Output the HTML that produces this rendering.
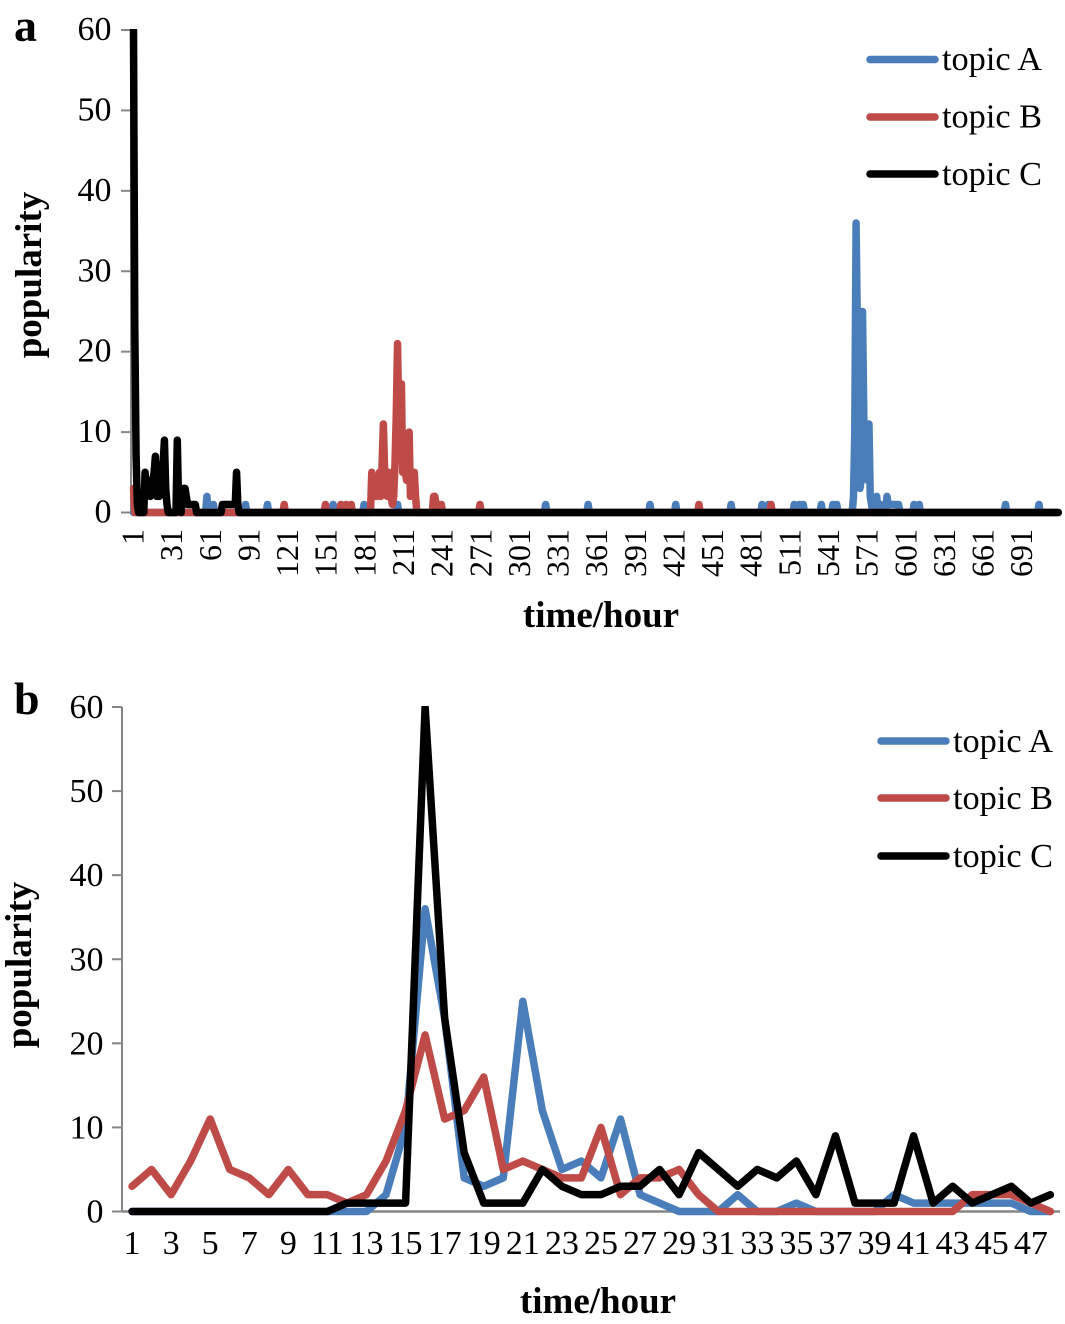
<!DOCTYPE html>
<html lang="en">
<head>
<meta charset="utf-8">
<title>Topic popularity over time</title>
<style>
html,body{margin:0;padding:0;background:#fff;}
svg{display:block;}
text{font-family:"Liberation Serif",serif;fill:#000;}
.tick{font-size:34px;}
.title{font-size:37px;font-weight:bold;}
.legend{font-size:34.3px;}
.panel{font-size:46px;font-weight:bold;}
</style>
</head>
<body>
<svg id="root" xmlns="http://www.w3.org/2000/svg" width="1065" height="1324" viewBox="0 0 1065 1324">
  <defs>
    <clipPath id="clipA"><rect x="100" y="29" width="965" height="500"/></clipPath>
    <clipPath id="clipB"><rect x="100" y="706" width="965" height="520"/></clipPath>
  </defs>
  <g id="panelA">
    <text class="panel" x="14" y="41">a</text>
    <line x1="131" y1="30" x2="131" y2="513" stroke="#868686" stroke-width="2"/>
    <line x1="131" y1="512.5" x2="1060" y2="512.5" stroke="#868686" stroke-width="2"/>
    <g id="a-ticks"></g>
    <g id="a-lines" clip-path="url(#clipA)"></g>
    <text class="title" x="601" y="627" text-anchor="middle">time/hour</text>
    <text class="title" transform="translate(41,275) rotate(-90)" text-anchor="middle">popularity</text>
    <g>
      <line x1="870" y1="59.5" x2="935" y2="59.5" stroke="#4a7ebb" stroke-width="7.5" stroke-linecap="round"/>
      <text class="legend" x="942" y="70">topic A</text>
      <line x1="870" y1="117" x2="935" y2="117" stroke="#be4b48" stroke-width="7.5" stroke-linecap="round"/>
      <text class="legend" x="942" y="127.5">topic B</text>
      <line x1="870" y1="174" x2="935" y2="174" stroke="#000" stroke-width="7.5" stroke-linecap="round"/>
      <text class="legend" x="942" y="185">topic C</text>
    </g>
  </g>
  <g id="panelB">
    <text class="panel" x="14" y="714">b</text>
    <line x1="122" y1="707" x2="122" y2="1212" stroke="#868686" stroke-width="2"/>
    <line x1="122" y1="1211.5" x2="1060" y2="1211.5" stroke="#868686" stroke-width="2.5"/>
    <g id="b-ticks"></g>
    <g id="b-lines" clip-path="url(#clipB)"></g>
    <text class="title" x="598" y="1313" text-anchor="middle">time/hour</text>
    <text class="title" transform="translate(31,965) rotate(-90)" text-anchor="middle">popularity</text>
    <g>
      <line x1="881" y1="741" x2="946" y2="741" stroke="#4a7ebb" stroke-width="7.5" stroke-linecap="round"/>
      <text class="legend" x="953" y="752">topic A</text>
      <line x1="881" y1="798" x2="946" y2="798" stroke="#be4b48" stroke-width="7.5" stroke-linecap="round"/>
      <text class="legend" x="953" y="809">topic B</text>
      <line x1="881" y1="856" x2="946" y2="856" stroke="#000" stroke-width="7.5" stroke-linecap="round"/>
      <text class="legend" x="953" y="867">topic C</text>
    </g>
  </g>
</svg>
<script>
// Shared axis values
var yTicks = [0, 10, 20, 30, 40, 50, 60];

// Panel a: non-zero hours and their popularity values (all other hours are 0)
var aHourCount = 719;
var aXTicks = [1, 31, 61, 91, 121, 151, 181, 211, 241, 271, 301, 331, 361, 391, 421, 451, 481, 511, 541, 571, 601, 631, 661, 691];
var aTopicAHours = [58, 63, 88, 105, 156, 180, 206, 321, 354, 402, 422, 465, 489, 494, 514, 518, 521, 535, 544, 547, 560, 561, 562, 563, 564, 565, 566, 567, 568, 569, 570, 571, 572, 573, 574, 578, 581, 586, 587, 588, 589, 590, 591, 592, 593, 594, 595, 607, 611, 678, 704];
var aTopicAValues = [2, 1, 1, 1, 1, 1, 1, 1, 1, 1, 1, 1, 1, 1, 1, 1, 1, 1, 1, 1, 2, 10, 36, 23, 4, 3, 4, 25, 12, 5, 6, 4, 11, 2, 1, 2, 1, 2, 1, 1, 1, 1, 1, 1, 1, 1, 1, 1, 1, 1, 1];
var aTopicBHours = [1, 118, 150, 162, 166, 170, 186, 187, 188, 189, 190, 191, 192, 193, 194, 195, 196, 197, 198, 199, 200, 201, 202, 203, 204, 205, 206, 207, 208, 209, 210, 211, 212, 213, 214, 215, 216, 217, 218, 219, 220, 234, 235, 236, 240, 270, 440, 496];
var aTopicBValues = [3, 1, 1, 1, 1, 1, 5, 3, 2, 3, 2, 3, 5, 2, 6, 11, 5, 4, 2, 5, 2, 2, 1, 2, 6, 12, 21, 11, 12, 16, 5, 6, 5, 4, 4, 10, 2, 4, 4, 5, 2, 2, 2, 1, 1, 1, 1, 1];
var aTopicCHours = [1, 2, 3, 4, 10, 11, 12, 13, 14, 15, 16, 17, 18, 19, 20, 21, 22, 23, 24, 25, 26, 27, 35, 36, 37, 39, 40, 41, 42, 43, 44, 45, 46, 47, 48, 49, 70, 71, 72, 73, 74, 75, 76, 77, 78, 79, 80, 81, 82];
var aTopicCValues = [60, 23, 7, 1, 5, 2, 4, 4, 2, 4, 4, 5, 7, 2, 5, 2, 5, 6, 6, 9, 3, 1, 9, 1, 1, 2, 3, 3, 2, 1, 1, 1, 1, 1, 1, 1, 1, 1, 1, 1, 1, 1, 1, 1, 1, 1, 1, 5, 1];

// Panel b: popularity per hour
var bXTicks = [1, 3, 5, 7, 9, 11, 13, 15, 17, 19, 21, 23, 25, 27, 29, 31, 33, 35, 37, 39, 41, 43, 45, 47];
var bTopicA = [0, 0, 0, 0, 0, 0, 0, 0, 0, 0, 0, 0, 0, 2, 10, 36, 23, 4, 3, 4, 25, 12, 5, 6, 4, 11, 2, 1, 0, 0, 0, 2, 0, 0, 1, 0, 0, 0, 0, 2, 1, 1, 1, 1, 1, 1, 0, 0];
var bTopicB = [3, 5, 2, 6, 11, 5, 4, 2, 5, 2, 2, 1, 2, 6, 12, 21, 11, 12, 16, 5, 6, 5, 4, 4, 10, 2, 4, 4, 5, 2, 0, 0, 0, 0, 0, 0, 0, 0, 0, 0, 0, 0, 0, 2, 2, 2, 1, 0];
var bTopicC = [0, 0, 0, 0, 0, 0, 0, 0, 0, 0, 0, 1, 1, 1, 1, 60, 23, 7, 1, 1, 1, 5, 3, 2, 2, 3, 3, 5, 2, 7, 5, 3, 5, 4, 6, 2, 9, 1, 1, 1, 9, 1, 3, 1, 2, 3, 1, 2];

var SVG_NS = 'http://www.w3.org/2000/svg';
var COLOR_A = '#4a7ebb', COLOR_B = '#be4b48', COLOR_C = '#000000';

function xA(h) { return 133.5 + (h - 1) * 1.288; }
function yA(v) { return 512.5 - v * (482.5 / 60); }
function xB(h) { return 132 + (h - 1) * 19.54; }
function yB(v) { return 1211.5 - v * (504.5 / 60); }

function expand(hours, values, count) {
  var out = [];
  for (var i = 0; i < count; i++) out.push(0);
  for (var j = 0; j < hours.length; j++) out[hours[j] - 1] = values[j];
  return out;
}

function linePath(values, xFn, yFn) {
  var d = '';
  for (var i = 0; i < values.length; i++) {
    d += (i ? 'L' : 'M') + xFn(i + 1).toFixed(2) + ' ' + yFn(values[i]).toFixed(2);
  }
  return d;
}

function addSeries(parent, values, xFn, yFn, color, width, name) {
  var p = document.createElementNS(SVG_NS, 'path');
  p.setAttribute('d', linePath(values, xFn, yFn));
  p.setAttribute('fill', 'none');
  p.setAttribute('stroke', color);
  p.setAttribute('stroke-width', width);
  p.setAttribute('stroke-linejoin', 'round');
  p.setAttribute('stroke-linecap', 'round');
  
  
  parent.appendChild(p);
}

function addYTicks(parent, axisX, textRight, yFn, labelOffset) {
  yTicks.forEach(function (v) {
    var l = document.createElementNS(SVG_NS, 'line');
    l.setAttribute('x1', axisX - 10);
    l.setAttribute('x2', axisX);
    l.setAttribute('y1', yFn(v));
    l.setAttribute('y2', yFn(v));
    l.setAttribute('stroke', '#868686');
    l.setAttribute('stroke-width', '2');
    
    
    parent.appendChild(l);
    var t = document.createElementNS(SVG_NS, 'text');
    t.setAttribute('class', 'tick');
    t.setAttribute('x', textRight);
    t.setAttribute('y', yFn(v) + labelOffset);
    t.setAttribute('text-anchor', 'end');
    
    
    t.textContent = v;
    parent.appendChild(t);
  });
}

var aTicksGroup = document.getElementById('a-ticks');
var bTicksGroup = document.getElementById('b-ticks');
addYTicks(aTicksGroup, 131, 111.5, yA, 10);
addYTicks(bTicksGroup, 122, 103.5, yB, 11);

aXTicks.forEach(function (h) {
  var t = document.createElementNS(SVG_NS, 'text');
  t.setAttribute('class', 'tick');
  t.setAttribute('style', 'font-size:32px');
  t.setAttribute('text-anchor', 'end');
  t.setAttribute('transform', 'translate(' + (xA(h) + 10) + ',529) rotate(-90)');
  
  
  t.textContent = h;
  aTicksGroup.appendChild(t);
});

bXTicks.forEach(function (h) {
  var t = document.createElementNS(SVG_NS, 'text');
  t.setAttribute('class', 'tick');
  t.setAttribute('x', xB(h));
  t.setAttribute('y', 1254);
  t.setAttribute('text-anchor', 'middle');
  
  
  t.textContent = h;
  bTicksGroup.appendChild(t);
});

var aLines = document.getElementById('a-lines');
var bLines = document.getElementById('b-lines');
addSeries(aLines, expand(aTopicAHours, aTopicAValues, aHourCount), xA, yA, COLOR_A, 7.5, 'panel-a-series-topic-a');
addSeries(aLines, expand(aTopicBHours, aTopicBValues, aHourCount), xA, yA, COLOR_B, 7.5, 'panel-a-series-topic-b');
addSeries(aLines, expand(aTopicCHours, aTopicCValues, aHourCount), xA, yA, COLOR_C, 7.5, 'panel-a-series-topic-c');
addSeries(bLines, bTopicA, xB, yB, COLOR_A, 7.5, 'panel-b-series-topic-a');
addSeries(bLines, bTopicB, xB, yB, COLOR_B, 7.5, 'panel-b-series-topic-b');
addSeries(bLines, bTopicC, xB, yB, COLOR_C, 7.5, 'panel-b-series-topic-c');
</script>
</body>
</html>
